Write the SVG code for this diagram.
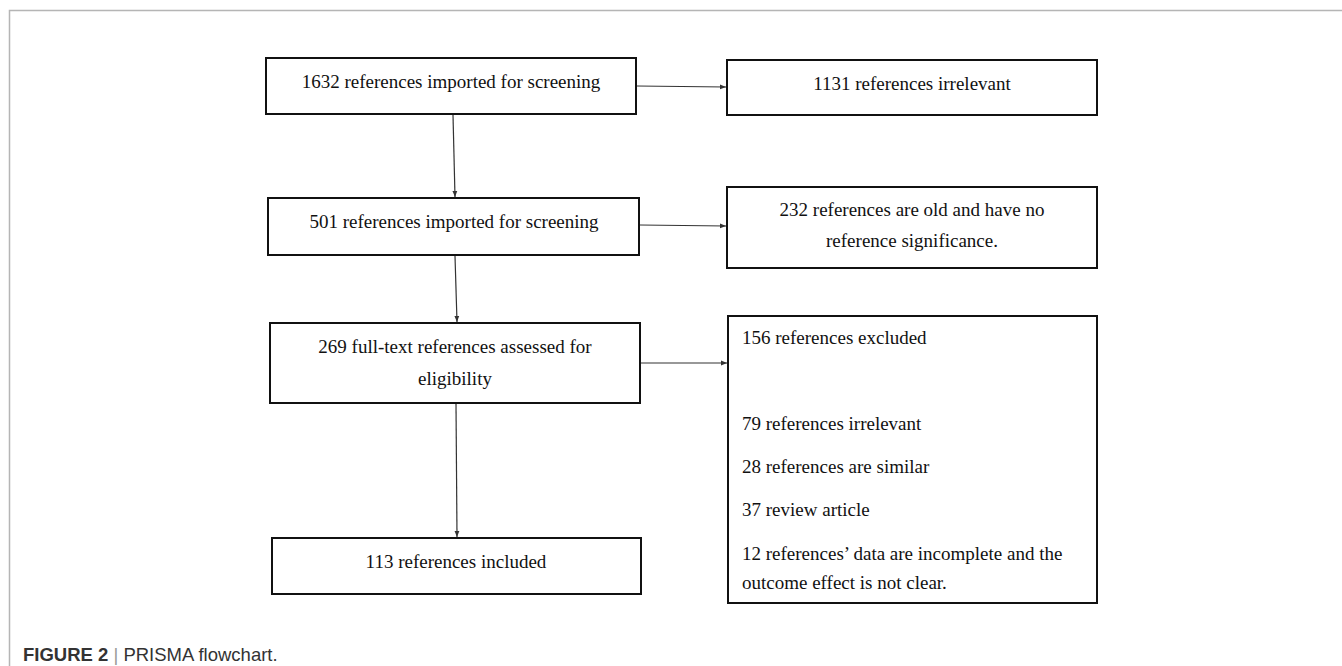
<svg xmlns="http://www.w3.org/2000/svg" width="1342" height="666" viewBox="0 0 1342 666">
<style>
.box{fill:#fff;stroke:#111;stroke-width:2}
.t{font-family:"Liberation Serif","Times New Roman",serif;font-size:19px;fill:#111}
.c{text-anchor:middle}
.conn{stroke:#333;stroke-width:1.2;fill:none;marker-end:url(#ah)}
.frame{stroke:#b5b5b5;stroke-width:1.5;fill:none}
</style>
<defs>
<marker id="ah" viewBox="0 0 10 10" refX="10" refY="5" markerWidth="6" markerHeight="6" markerUnits="userSpaceOnUse" orient="auto">
<path d="M0,1 L10,5 L0,9 z" fill="#333"/>
</marker>
</defs>
<rect width="1342" height="666" fill="#fff"/>
<path class="frame" d="M9.5,666 V10.5 H1342"/>
<g id="n1"><rect class="box" x="266" y="58" width="370" height="56"/><text class="t c" x="451" y="88">1632 references imported for screening</text></g>
<g id="r1"><rect class="box" x="727" y="60" width="370" height="55"/><text class="t c" x="912" y="90">1131 references irrelevant</text></g>
<g id="n2"><rect class="box" x="268" y="198" width="371" height="57"/><text class="t c" x="454" y="228">501 references imported for screening</text></g>
<g id="r2"><rect class="box" x="727" y="187" width="370" height="81"/><text class="t c" x="912" y="216">232 references are old and have no</text><text class="t c" x="912" y="247">reference significance.</text></g>
<g id="n3"><rect class="box" x="270" y="323" width="370" height="80"/><text class="t c" x="455" y="353">269 full-text references assessed for</text><text class="t c" x="455" y="385">eligibility</text></g>
<g id="r3"><rect class="box" x="728" y="316" width="369" height="287"/>
<text class="t" x="742" y="344">156 references excluded</text>
<text class="t" x="742" y="430">79 references irrelevant</text>
<text class="t" x="742" y="473">28 references are similar</text>
<text class="t" x="742" y="516">37 review article</text>
<text class="t" x="742" y="560">12 references’ data are incomplete and the</text>
<text class="t" x="742" y="589">outcome effect is not clear.</text></g>
<g id="n4"><rect class="box" x="272" y="538" width="369" height="56"/><text class="t c" x="456" y="568">113 references included</text></g>
<g id="connectors">
<path class="conn" d="M637,86 L726,87"/>
<path class="conn" d="M453,115 L455,197"/>
<path class="conn" d="M640,225 L726,226"/>
<path class="conn" d="M455,256 L457,322"/>
<path class="conn" d="M641,363 L727,363"/>
<path class="conn" d="M456,404 L457,537"/>
</g>
<text x="23" y="661" font-family="Liberation Sans,Arial,sans-serif" font-size="18.5" fill="#333"><tspan font-weight="bold">FIGURE 2</tspan> <tspan fill="#999" font-weight="normal">|</tspan> PRISMA flowchart.</text>
</svg>
